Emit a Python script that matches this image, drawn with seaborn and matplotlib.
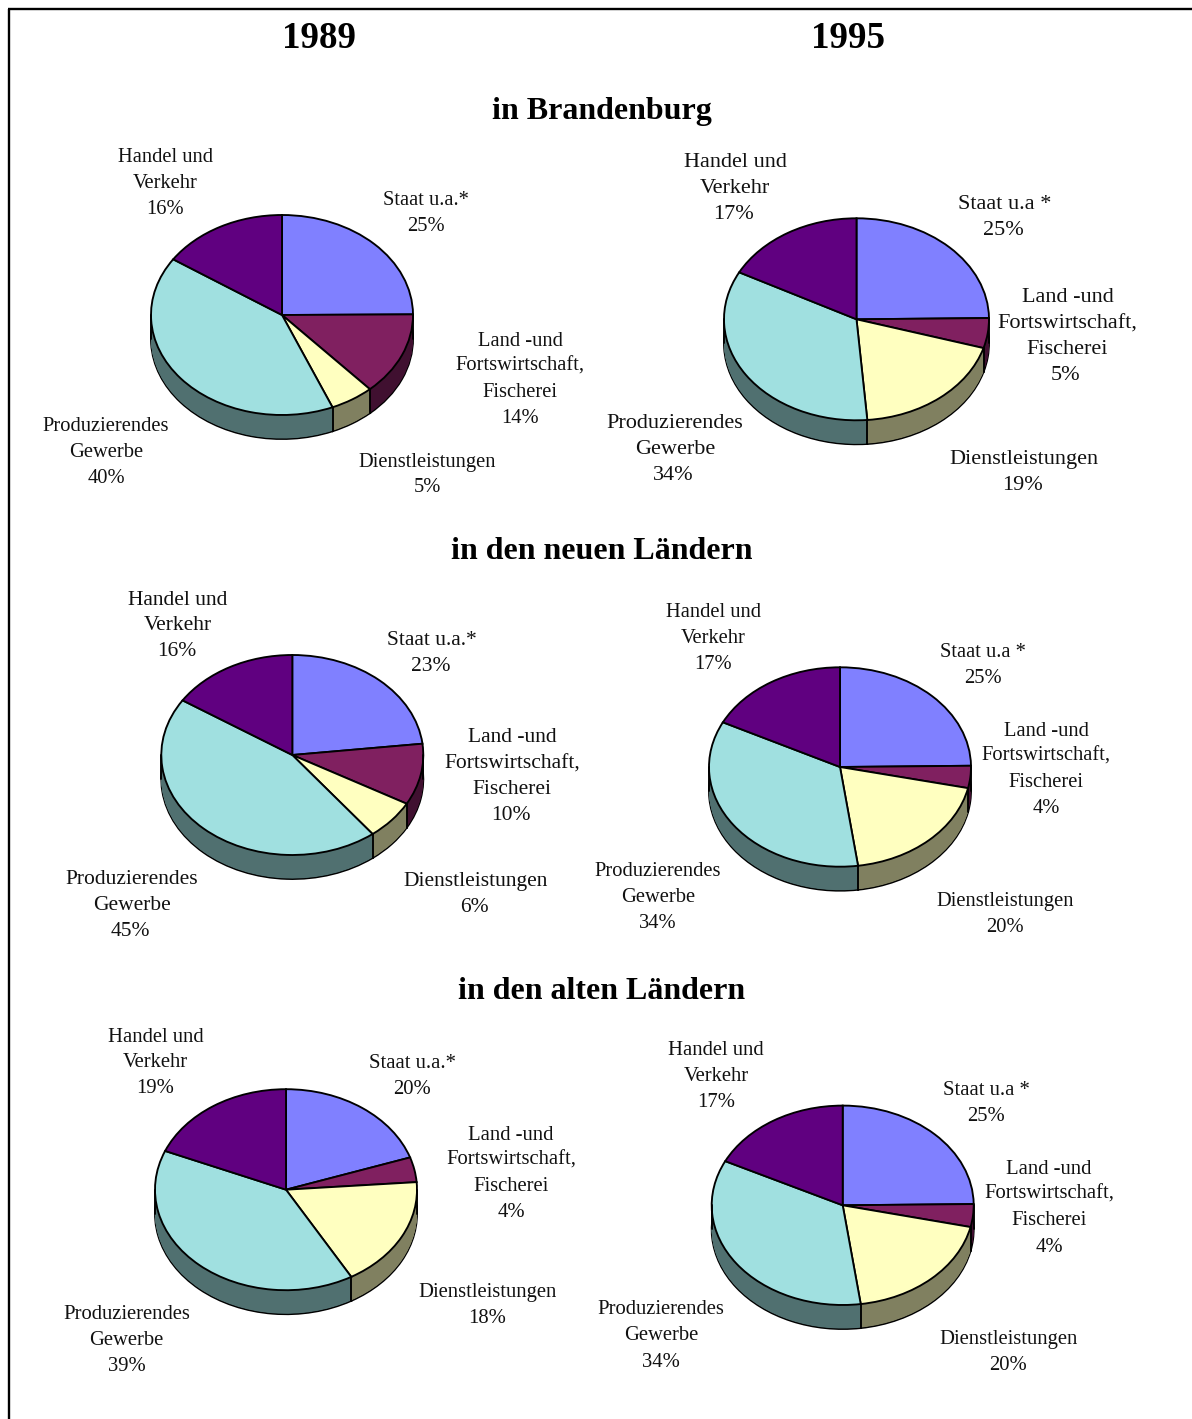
import numpy as np
import matplotlib
matplotlib.use("Agg")
import matplotlib.pyplot as plt
import seaborn as sns

# ---- data ----
sector_handel = ["Handel und", "Verkehr"]
sector_staat_89 = ["Staat u.a.*"]
sector_staat_95 = ["Staat u.a *"]
sector_land = ["Land -und", "Fortswirtschaft,", "Fischerei"]
sector_dienst = ["Dienstleistungen"]
sector_prod = ["Produzierendes", "Gewerbe"]

# order of the slices: Staat, Land, Dienst, Prod, Handel
# printed percentages
labels_bb_89 = [25, 14, 5, 40, 16]
labels_bb_95 = [25, 5, 19, 34, 17]
labels_neu_89 = [23, 10, 6, 45, 16]
labels_neu_95 = [25, 4, 20, 34, 17]
labels_alt_89 = [20, 4, 18, 39, 19]
labels_alt_95 = [25, 4, 20, 34, 17]

# slice sizes
slices_bb_89 = [24.9, 13.4, 5.4, 40.7, 15.6]
slices_bb_95 = [24.8, 4.8, 19.1, 34.0, 17.3]
slices_neu_89 = [23.2, 9.9, 6.4, 44.7, 15.8]
slices_neu_95 = [24.8, 3.6, 19.4, 34.6, 17.6]
slices_alt_89 = [19.8, 4.0, 17.9, 39.6, 18.7]
slices_alt_95 = [24.8, 3.7, 19.3, 34.5, 17.7]

year_labels = ["1989", "1995"]
region_labels = ["in Brandenburg", "in den neuen Ländern", "in den alten Ländern"]

# ---- styles ----
colors_top = ["#8080FF", "#802060", "#FFFFC0", "#A0E0E0", "#600080"]
colors_side = ["#404080", "#401030", "#808060", "#507070", "#300040"]

# ---- layout in pixels ----
W, H = 1192, 1419
DEPTH = 24
pies = [
    dict(c=(282, 315), r=(131, 100), fs=14.8, pdx=0, staat=sector_staat_89,
         v=slices_bb_89, lab=labels_bb_89,
         pos=[(426, [198, 224]), (520, [339, 364, 390, 416]), (427, [460, 485]),
              (106, [424, 450, 476]), (165, [155, 181, 207])]),
    dict(c=(856.5, 319.3), r=(132.5, 101), fs=16, pdx=-2, staat=sector_staat_95,
         v=slices_bb_95, lab=labels_bb_95,
         pos=[(1005, [202, 228]), (1067.5, [295, 321, 347, 373]), (1024, [457, 483]),
              (675, [421, 447, 473]), (735, [160, 186, 212])]),
    dict(c=(292.3, 755), r=(131, 100), fs=15.5, pdx=-1.5, staat=sector_staat_89,
         v=slices_neu_89, lab=labels_neu_89,
         pos=[(432, [638, 664]), (512, [735, 761, 787, 813]), (476, [879, 905]),
              (132, [877, 903, 929]), (178, [598, 623, 649])]),
    dict(c=(840, 767), r=(131, 99.7), fs=14.8, pdx=0, staat=sector_staat_95,
         v=slices_neu_95, lab=labels_neu_95,
         pos=[(983, [650, 676]), (1046, [729, 754, 780, 806]), (1005, [899, 925]),
              (658, [869, 895, 921]), (713, [610, 636, 662])]),
    dict(c=(286, 1189.7), r=(131, 100.5), fs=14.9, pdx=0, staat=sector_staat_89,
         v=slices_alt_89, lab=labels_alt_89,
         pos=[(412.5, [1061, 1087]), (511, [1133, 1158, 1184, 1210]), (487.5, [1290, 1316]),
              (126.5, [1312, 1338, 1364]), (155.5, [1035, 1060, 1086])]),
    dict(c=(842.7, 1205.3), r=(131, 99.7), fs=14.9, pdx=0, staat=sector_staat_95,
         v=slices_alt_95, lab=labels_alt_95,
         pos=[(986, [1088, 1114]), (1049, [1167, 1192, 1218, 1245]), (1008.5, [1337, 1363]),
              (661, [1307, 1333, 1360]), (716, [1048, 1074, 1100])]),
]

sns.set_theme(style="white")
plt.rcParams["font.family"] = ["Liberation Serif", "DejaVu Serif"]

fig = plt.figure(figsize=(W / 100, H / 100), dpi=100, facecolor="white")
bg = fig.add_axes([0, 0, 1, 1])
bg.set_xlim(0, W)
bg.set_ylim(H, 0)
bg.axis("off")

# page frame: top and left rule only
bg.plot([7.5, W], [9, 9], color="black", lw=1.7, solid_capstyle="butt")
bg.plot([8.5, 8.5], [9, H], color="black", lw=1.7, solid_capstyle="butt")


def txt(x, y, s, size, weight="normal"):
    bg.text(x, y + size * 0.46, s, ha="center", va="baseline", fontsize=size,
            fontweight=weight, color="#111111" if weight == "normal" else "black")


for s, x in zip(year_labels, (319, 848)):
    txt(x, 36, s, 26.6, "bold")
for s, y, x in zip(region_labels, (108, 548, 988), (602, 601.5, 601.5)):
    txt(x, y, s, 23, "bold")

LW = 1.35
for p in pies:
    cx, cy = p["c"]
    rx, ry = p["r"]
    v = p["v"]
    pad = 1.04
    d = DEPTH / ry
    left = cx - rx * pad
    right = cx + rx * pad
    top = cy - ry * pad
    bottom = cy + ry * pad + DEPTH
    ax = fig.add_axes([left / W, 1 - bottom / H, (right - left) / W, (bottom - top) / H])
    ax.patch.set_alpha(0)

    # bottom outline, side wall stack, top face
    ax.pie(v, colors=colors_side, startangle=90, counterclock=False, center=(0, -d),
           wedgeprops=dict(edgecolor="black", linewidth=LW))
    for off in np.arange(DEPTH - 0.5, 0, -0.5):
        ax.pie(v, colors=colors_side, startangle=90, counterclock=False,
               center=(0, -off / ry), wedgeprops=dict(linewidth=0))
    ax.pie(v, colors=colors_top, startangle=90, counterclock=False,
           wedgeprops=dict(edgecolor="black", linewidth=LW))

    # vertical edges of the wall at slice borders and at the silhouette
    theta = np.deg2rad(90 - 360 * np.cumsum(v) / np.sum(v))
    for t in theta:
        if np.sin(t) < -1e-6:
            ax.plot([np.cos(t)] * 2, [np.sin(t), np.sin(t) - d], color="black", lw=LW)
    for sx in (-1, 1):
        ax.plot([sx, sx], [0, -d], color="black", lw=LW)

    ax.set_aspect("auto")
    ax.set_xlim(-pad, pad)
    ax.set_ylim(-pad - d, pad)
    ax.axis("off")

    names = [p["staat"], sector_land, sector_dienst, sector_prod, sector_handel]
    for name, val, (x, ys) in zip(names, p["lab"], p["pos"]):
        lines = name + [f"{val}%"]
        for i, (line, y) in enumerate(zip(lines, ys)):
            txt(x + (p["pdx"] if i == len(lines) - 1 else 0), y, line, p["fs"])

fig.savefig("out.png", dpi=100, facecolor="white")
